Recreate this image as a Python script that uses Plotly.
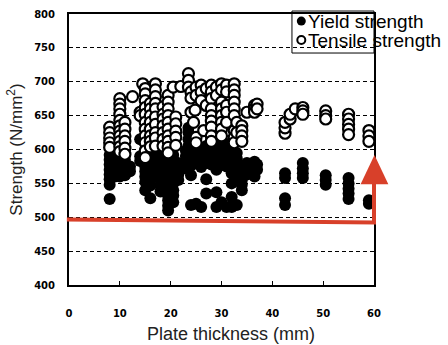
import plotly.graph_objects as go

# ---- data ----
tensile_x = (
    [8]*5 + [10]*11 + [11]*6 + [12.5] + [14.5] + [14]*2 + [15]*11 + [16]*8 + [17]*10
    + [18.5]*7 + [19.5]*10 + [21]*5 + [20.5] + [22] + [23.5]*3 + [24]*3 + [24.8, 24.5]
    + [25]*4 + [26]*3 + [26.5] + [27]*2 + [28]*9 + [29]*2 + [30]*8 + [31]*5 + [32.5]*9
    + [33]*2 + [34]*4 + [35] + [36.5]*3 + [37]*2 + [42.5]*3 + [43.5]*2 + [44.5]
    + [46]*3 + [50.5]*3 + [55]*5 + [59]*3
)
tensile_y = (
    [633, 625, 617, 610, 603]
    + [675, 667, 660, 652, 643, 635, 627, 620, 612, 604, 597]
    + [640, 630, 620, 612, 602, 593]
    + [678]
    + [697]
    + [655, 650]
    + [690, 682, 672, 662, 652, 640, 630, 620, 610, 598, 588]
    + [668, 660, 650, 640, 630, 620, 612, 604]
    + [697, 688, 678, 668, 660, 648, 637, 625, 617, 605]
    + [663, 652, 645, 635, 625, 615, 605]
    + [680, 670, 660, 650, 640, 630, 620, 612, 603, 595]
    + [648, 638, 627, 618, 606]
    + [692]
    + [693]
    + [712, 702, 692]
    + [685, 676, 655]
    + [658, 640]
    + [692, 680, 618, 610]
    + [695, 685, 672]
    + [628]
    + [690, 665]
    + [695, 685, 675, 660, 650, 642, 633, 620, 612]
    + [692, 680]
    + [697, 688, 670, 660, 650, 640, 630, 620]
    + [695, 685, 665, 655, 640]
    + [697, 688, 680, 670, 660, 650, 628, 618, 610]
    + [640, 625]
    + [635, 628, 620, 612]
    + [655]
    + [665, 660, 655]
    + [667, 660]
    + [624, 632, 640]
    + [645, 652]
    + [660]
    + [662, 657, 652]
    + [657, 650, 645]
    + [652, 645, 637, 630, 622]
    + [628, 620, 612]
)

yield_x = (
    [8]*8 + [9]*3 + [10]*5 + [11]*4 + [12]*2 + [14]*3 + [15]*10 + [16]*9 + [17]*6
    + [18]*8 + [19.5]*12 + [20.5]*9 + [21.5]*4 + [23.5]*4 + [23]*4 + [24]*6 + [25]*3
    + [26]*5 + [27]*6 + [28]*5 + [29]*7 + [30]*6 + [31]*6 + [32]*8 + [33]*6 + [34]*5
    + [35]*3 + [36.5]*4 + [37]*2 + [42.5]*4 + [46]*4 + [50.5]*3 + [55]*5 + [59]*2
)
yield_y = (
    [592, 585, 578, 570, 563, 556, 548, 527]
    + [580, 570, 560]
    + [590, 582, 575, 568, 560]
    + [585, 578, 570, 562]
    + [575, 568]
    + [615, 590, 583]
    + [620, 610, 600, 592, 583, 575, 568, 560, 552, 540]
    + [605, 595, 585, 577, 570, 562, 555, 547, 528]
    + [615, 600, 590, 580, 570, 560]
    + [600, 590, 580, 570, 562, 555, 547, 538]
    + [595, 587, 580, 572, 564, 556, 548, 540, 532, 525, 517, 510]
    + [592, 584, 575, 567, 560, 550, 540, 532, 522]
    + [580, 572, 563, 555]
    + [632, 625, 615, 605]
    + [598, 590, 582, 572]
    + [600, 592, 584, 576, 562, 518]
    + [595, 587, 520]
    + [600, 590, 582, 574, 515]
    + [605, 597, 588, 580, 556, 535]
    + [612, 603, 595, 587, 578]
    + [605, 597, 588, 580, 570, 537, 515]
    + [612, 603, 595, 585, 577, 522]
    + [608, 600, 590, 582, 575, 515]
    + [600, 592, 583, 575, 565, 550, 530, 515]
    + [595, 587, 578, 568, 558, 518]
    + [575, 568, 555, 548, 540]
    + [580, 572, 563]
    + [582, 575, 568, 560]
    + [578, 570]
    + [565, 558, 528, 518]
    + [580, 572, 565, 558]
    + [562, 555, 548]
    + [558, 550, 542, 535, 527]
    + [525, 520]
)

x_ticks = [0, 10, 20, 30, 40, 50, 60]
y_ticks = [400, 450, 500, 550, 600, 650, 700, 750, 800]
series_names = ["Yield strength", "Tensile strength"]

RED = "#d8402a"
fig = go.Figure()

fig.add_trace(go.Scatter(
    x=yield_x, y=yield_y, mode="markers", name=series_names[0],
    marker=dict(symbol="circle", size=12, color="black", line=dict(width=0)),
    showlegend=False, cliponaxis=False,
))
fig.add_trace(go.Scatter(
    x=tensile_x, y=tensile_y, mode="markers", name=series_names[1],
    marker=dict(symbol="circle", size=11, color="white", line=dict(width=2.2, color="black")),
    showlegend=False, cliponaxis=False,
))

# manual legend (text overflows the box as in the reference)
fig.add_shape(type="rect", xref="paper", yref="paper", x0=0.731, x1=1.0, y0=0.856, y1=1.011,
              line=dict(color="black", width=1), fillcolor="white", layer="between")
fig.add_trace(go.Scatter(
    x=[45.7], y=[789.5], mode="markers", showlegend=False, cliponaxis=False, hoverinfo="skip",
    marker=dict(symbol="circle", size=9, color="black")))
fig.add_trace(go.Scatter(
    x=[45.7], y=[761.5], mode="markers", showlegend=False, cliponaxis=False, hoverinfo="skip",
    marker=dict(symbol="circle", size=8, color="white", line=dict(width=2, color="black"))))
for name, yp in zip(series_names, [0.972, 0.902]):
    fig.add_annotation(text=name, xref="paper", yref="paper", x=0.778, y=yp,
                       xanchor="left", yanchor="middle", showarrow=False,
                       font=dict(size=19, color="black", family="Liberation Sans, Arial"))

# x-axis title placed as in the reference (slightly right of centre)
fig.add_annotation(text="Plate thickness (mm)", xref="paper", yref="paper", x=0.531, y=-0.18,
                   xanchor="center", yanchor="middle", showarrow=False,
                   font=dict(size=18, color="#222", family="Liberation Sans, Arial"))

# red line with arrow
fig.add_shape(type="path", xref="paper", yref="paper",
              path="M -0.007 0.2415 L 1.0 0.2305 L 1.0 0.39",
              line=dict(color=RED, width=4), layer="above")
fig.add_shape(type="path", xref="paper", yref="paper",
              path="M 0.956 0.372 L 1.047 0.372 L 1.0016 0.48 Z",
              line=dict(color=RED, width=0), fillcolor=RED, layer="above")

tick_font = dict(family="DejaVu Sans", size=10, color="black", weight="bold")
fig.update_xaxes(
    range=[0, 60], tickvals=x_ticks, ticktext=[str(v) for v in x_ticks],
    showgrid=False, zeroline=False, showline=True, linecolor="black", linewidth=2,
    mirror=True, ticks="inside", ticklen=4, tickcolor="black", tickfont=tick_font,
    ticklabelstandoff=18, automargin=False,
)
fig.update_yaxes(
    range=[400, 800], tickvals=y_ticks, ticktext=[str(v) for v in y_ticks],
    showgrid=True, gridcolor="black", gridwidth=1, griddash="4px,3px",
    zeroline=False, showline=True, linecolor="black", linewidth=2, mirror=True,
    ticks="", tickfont=tick_font, ticklabelstandoff=10, automargin=False,
    title=dict(text="Strength (N/mm<sup>2</sup>)", font=dict(size=17, color="#222", family="Liberation Sans, Arial"),
               standoff=7),
)
fig.update_layout(
    width=448, height=345, margin=dict(l=69, r=74, t=14, b=60, autoexpand=False),
    plot_bgcolor="white", paper_bgcolor="white",
    font=dict(family="Liberation Sans, Arial", color="black"),
)
fig.write_html("out.html")
